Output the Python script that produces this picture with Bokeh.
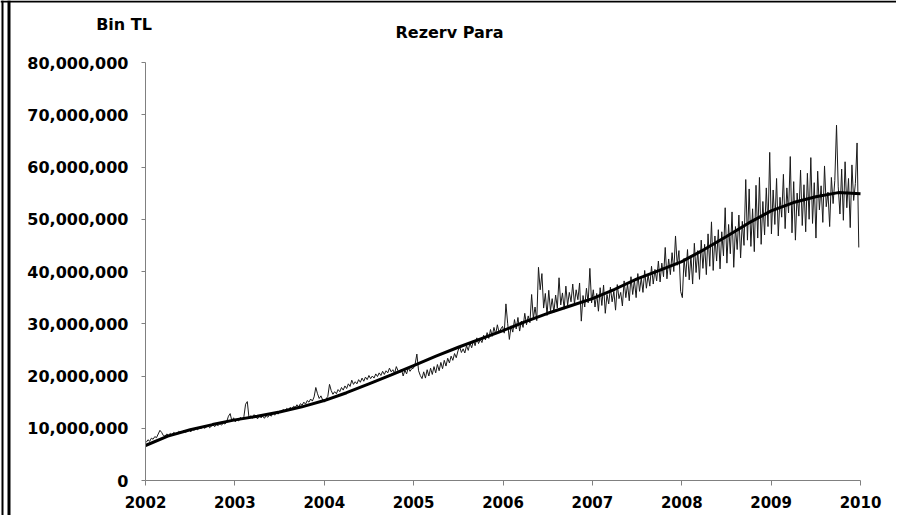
from bokeh.plotting import figure
from bokeh.models import FixedTicker, NumeralTickFormatter, Range1d
from bokeh.core.properties import value
from bokeh.embed import file_html
from bokeh.resources import INLINE

title_text = "Rezerv Para"
unit_text = "Bin TL"

year_ticks = [2002, 2003, 2004, 2005, 2006, 2007, 2008, 2009, 2010]
value_ticks = [0, 10000000, 20000000, 30000000, 40000000, 50000000, 60000000, 70000000, 80000000]

# weekly reserve money, million TL
reserve_2002 = [7.3, 7.8, 7.5, 8.1, 7.9, 8.4, 8.2, 8.9, 9.6, 9.2, 8.6, 8.5, 8.9, 8.7, 9.0, 8.8, 9.2, 9.0, 8.9, 9.4,
                9.1, 9.3, 9.6, 9.2, 9.5, 9.7, 9.3, 9.8, 9.6, 10.0, 9.7, 10.1, 9.9, 10.3, 10.0, 10.2, 10.5, 10.1, 10.4, 10.6,
                10.3, 10.7, 10.5, 10.9, 10.6, 11.0, 10.8, 11.3, 12.3, 12.8, 11.4, 12.0]
reserve_2003 = [11.2, 11.6, 11.4, 12.1, 11.7, 12.2, 14.6, 15.1, 12.0, 12.4, 11.9, 12.6, 12.2, 11.8, 12.5, 12.0, 12.3, 11.9, 12.4, 12.1,
                12.6, 12.3, 12.9, 12.5, 13.0, 12.7, 13.3, 13.0, 13.6, 13.2, 13.8, 13.5, 14.0, 13.7, 14.2, 14.0, 14.5, 14.1, 14.7, 14.4,
                15.0, 14.6, 15.3, 15.0, 15.6, 15.2, 16.0, 17.8, 16.6, 15.7, 16.2, 15.4]
reserve_2004 = [15.0, 15.6, 16.1, 18.4, 17.2, 16.5, 17.0, 16.6, 17.4, 17.0, 17.8, 17.3, 18.1, 17.6, 18.5, 18.0, 19.2, 18.4, 18.9, 18.5,
                19.3, 18.8, 19.6, 19.0, 19.8, 19.3, 20.1, 19.5, 20.0, 19.6, 20.4, 19.9, 20.6, 20.1, 20.9, 20.3, 21.0, 20.6, 21.5, 20.8,
                21.2, 20.5, 21.8, 21.0, 20.6, 21.3, 20.0, 21.1, 20.4, 21.6, 20.9, 21.4]
reserve_2005 = [21.5, 22.3, 24.2, 21.0, 20.1, 19.5, 20.8, 19.6, 21.2, 20.0, 21.5, 20.3, 21.8, 20.6, 22.2, 21.0, 22.6, 21.4, 23.0, 21.9,
                23.4, 22.5, 23.8, 23.0, 24.3, 23.5, 24.8, 25.6, 24.5, 25.2, 24.4, 25.8, 24.9, 26.3, 25.4, 26.8, 25.8, 27.3, 26.2, 27.0,
                26.4, 27.8, 26.9, 28.3, 27.2, 28.9, 27.6, 29.3, 28.0, 29.8, 28.3, 29.0]
reserve_2006 = [29.5, 28.2, 33.8, 30.1, 27.0, 29.6, 28.4, 30.8, 29.0, 31.2, 28.6, 30.5, 29.3, 32.0, 29.8, 31.5, 30.2, 35.6, 31.0, 33.2,
                30.6, 40.8, 36.5, 39.6, 33.0, 35.8, 31.6, 36.4, 32.5, 34.8, 32.2, 35.5, 33.0, 38.8, 33.6, 35.9, 32.8, 37.2, 33.5, 36.0,
                34.2, 37.6, 33.8, 36.5, 34.6, 37.8, 30.5, 35.4, 33.2, 36.8, 34.0, 40.6]
reserve_2007 = [34.0, 36.5, 33.2, 35.8, 32.4, 36.9, 33.5, 37.4, 32.0, 35.6, 33.8, 37.0, 34.2, 36.2, 32.6, 37.5, 34.8, 36.0, 33.4, 38.2,
                35.0, 37.6, 34.4, 39.0, 35.6, 38.4, 35.0, 39.6, 36.2, 38.8, 36.0, 40.2, 36.8, 39.4, 37.2, 41.0, 37.6, 40.4, 38.2, 42.0,
                38.0, 41.6, 39.0, 44.6, 38.6, 42.4, 39.4, 43.6, 40.0, 46.8, 41.2, 44.0]
reserve_2008 = [36.2, 35.0, 42.5, 39.0, 44.2, 38.4, 43.0, 37.6, 45.4, 39.8, 44.0, 38.5, 46.0, 40.6, 45.2, 39.4, 47.2, 41.0, 49.5, 40.2,
                46.8, 42.0, 48.0, 40.5, 47.6, 43.0, 52.2, 41.6, 49.0, 43.4, 51.4, 40.8, 48.6, 44.2, 50.8, 42.6, 49.6, 45.0, 57.6, 46.0,
                55.8, 44.8, 52.0, 43.8, 56.5, 46.4, 58.0, 45.2, 53.4, 47.0, 56.0, 48.6]
reserve_2009 = [62.8, 47.2, 55.6, 49.0, 57.8, 46.8, 54.2, 50.4, 58.6, 48.2, 56.0, 51.2, 62.0, 47.4, 57.2, 46.0, 55.0, 50.6, 59.4, 48.8,
                56.6, 47.6, 58.8, 50.0, 61.8, 49.2, 57.0, 46.4, 59.2, 51.8, 56.4, 49.4, 60.2, 52.4, 55.2, 48.6, 58.0, 53.0, 57.4, 68.0,
                56.2, 51.0, 59.6, 49.8, 61.0, 52.2, 57.8, 48.4, 60.4, 53.6, 56.8, 64.6]
reserve_2010 = [44.6]

# smooth trend, million TL, quarterly
trend_years = [2002.0, 2002.25, 2002.5, 2002.75, 2003.0, 2003.25, 2003.5, 2003.75, 2004.0, 2004.25, 2004.5,
               2004.75, 2005.0, 2005.25, 2005.5, 2005.75, 2006.0, 2006.25, 2006.5, 2006.75, 2007.0, 2007.25,
               2007.5, 2007.75, 2008.0, 2008.25, 2008.5, 2008.75, 2009.0, 2009.25, 2009.5, 2009.75, 2010.0]
trend_values = [6.7, 8.5, 9.7, 10.7, 11.6, 12.3, 13.1, 14.1, 15.3, 16.8, 18.5,
                20.2, 22.0, 23.8, 25.5, 27.1, 28.7, 30.4, 32.0, 33.4, 34.8, 36.6,
                38.6, 40.2, 41.9, 44.2, 46.7, 49.3, 51.6, 53.2, 54.3, 55.1, 54.9]

weekly = (reserve_2002 + reserve_2003 + reserve_2004 + reserve_2005 + reserve_2006
          + reserve_2007 + reserve_2008 + reserve_2009 + reserve_2010)
week_x = [2002 + (3 + 7 * i) / 365.25 for i in range(len(weekly))]
week_y = [v * 1e6 for v in weekly]
trend_y = [v * 1e6 for v in trend_values]

# layout (pixels): canvas 896 x 515, axes cross at (145, 480), 2010 at 860, 80,000,000 at 62
W, H = 896, 515
ax_left, ax_bottom = 145, 480
px_per_year = 715 / 8
px_per_unit = 418 / 80000000
x_lo = 2002 - ax_left / px_per_year
x_hi = 2002 + (W - ax_left) / px_per_year
y_lo = -(H - ax_bottom) / px_per_unit
y_hi = ax_bottom / px_per_unit

p = figure(width=W, height=H, output_backend="svg", toolbar_location=None,
           x_range=Range1d(x_lo, x_hi), y_range=Range1d(y_lo, y_hi), min_border=0)
p.background_fill_color = "white"
p.border_fill_color = "white"
p.outline_line_color = None
p.xgrid.visible = False
p.ygrid.visible = False

# picture frame: double line on the left, single line on top
p.segment(x0=[x_lo + 2 / px_per_year, x_lo + 8.5 / px_per_year], y0=[y_lo, y_lo],
          x1=[x_lo + 2 / px_per_year, x_lo + 8.5 / px_per_year], y1=[y_hi, y_hi],
          line_color="black", line_width=[2, 3])
p.segment(x0=[x_lo], y0=[y_hi - 1 / px_per_unit], x1=[x_hi], y1=[y_hi - 1 / px_per_unit],
          line_color="black", line_width=2)

p.line(week_x, week_y, line_color="#1a1a1a", line_width=1)
p.line(trend_years, trend_y, line_color="black", line_width=3)

font = "DejaVu Sans"
for ax in (p.xaxis[0], p.yaxis[0]):
    ax.axis_line_color = "#808080"
    ax.major_tick_line_color = "#808080"
    ax.minor_tick_line_color = None
    ax.major_tick_in = 0
    ax.major_label_text_font = font
    ax.major_label_text_font_style = "bold"
    ax.major_label_text_color = "black"

p.xaxis.ticker = FixedTicker(ticks=year_ticks)
p.xaxis.formatter = NumeralTickFormatter(format="0")
p.xaxis.bounds = (year_ticks[0], year_ticks[-1])
p.xaxis.fixed_location = value_ticks[0]
p.xaxis.major_tick_out = 5
p.xaxis.major_label_text_font_size = "15px"
p.xaxis.major_label_standoff = 10

p.yaxis.ticker = FixedTicker(ticks=value_ticks)
p.yaxis.formatter = NumeralTickFormatter(format="0,0")
p.yaxis.bounds = (value_ticks[0], value_ticks[-1])
p.yaxis.fixed_location = year_ticks[0]
p.yaxis.major_tick_out = 4
p.yaxis.major_label_text_font_size = "16px"
p.yaxis.major_label_standoff = 13

# chart title and unit (positions in pixels converted through the scales)
p.text(x=[2002 + (449 - ax_left) / px_per_year], y=[(ax_bottom - 32) / px_per_unit], text=[title_text],
       text_font=value(font), text_font_style="bold", text_font_size="16px",
       text_align="center", text_baseline="alphabetic", text_color="black")
p.text(x=[2002 + (123.5 - ax_left) / px_per_year], y=[(ax_bottom - 24) / px_per_unit], text=[unit_text],
       text_font=value(font), text_font_style="bold", text_font_size="16px",
       text_align="center", text_baseline="alphabetic", text_color="black")

open("out.html", "w").write(file_html(p, INLINE))
